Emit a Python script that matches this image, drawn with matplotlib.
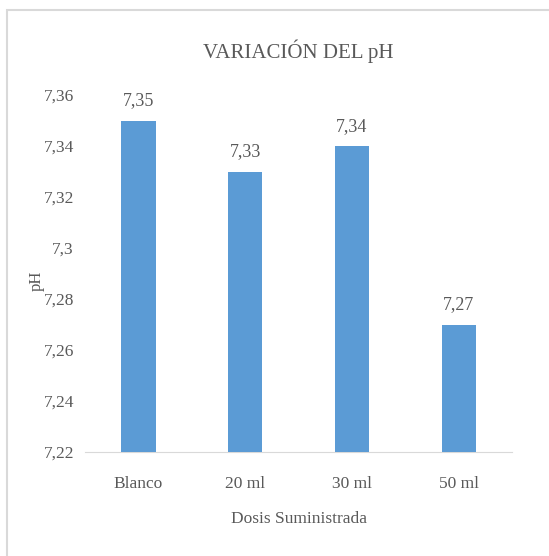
import numpy as np
import matplotlib.pyplot as plt
from matplotlib.patches import Rectangle

categories = ['Blanco', '20 ml', '30 ml', '50 ml']
ph_values = [7.35, 7.33, 7.34, 7.27]
y_ticks = [7.22, 7.24, 7.26, 7.28, 7.3, 7.32, 7.34, 7.36]
y_tick_labels = ['7,22', '7,24', '7,26', '7,28', '7,3', '7,32', '7,34', '7,36']

plt.rcParams['font.family'] = ['Liberation Serif', 'DejaVu Serif']
text_color = '#595959'

fig = plt.figure(figsize=(5.49, 5.56), dpi=100)
fig.patches.append(Rectangle((7 / 549, -0.01), 1.0, (556 - 10) / 556 + 0.01,
                             transform=fig.transFigure, fill=False,
                             edgecolor='#d9d9d9', linewidth=1.5))
ax = fig.add_axes([0.155, 0.187, 0.778, 0.642])

x = np.arange(len(categories))
bars = ax.bar(x, ph_values, width=0.32, color='#5b9bd5', zorder=3)
for xi, v in zip(x, ph_values):
    ax.text(xi, v + 0.0045, ('%.2f' % v).replace('.', ','), ha='center', va='bottom',
            fontsize=13, color=text_color)

ax.set_ylim(7.22, 7.36)
ax.set_xlim(-0.5, len(categories) - 0.5)
ax.set_yticks(y_ticks)
ax.set_yticklabels(y_tick_labels)
ax.set_xticks(x)
ax.set_xticklabels(categories)
ax.tick_params(axis='both', length=0, labelsize=12.5, labelcolor=text_color)
ax.tick_params(axis='y', pad=8)
ax.tick_params(axis='x', pad=17)

for side in ['top', 'right', 'left']:
    ax.spines[side].set_visible(False)
ax.spines['bottom'].set_color('#d9d9d9')

ax.set_title('VARIACIÓN DEL pH', fontsize=15, color=text_color, pad=27)
ax.set_ylabel('pH', fontsize=12, color=text_color)
ax.yaxis.set_label_coords(-40 / 427, 0.48)
ax.set_xlabel('Dosis Suministrada', fontsize=12.5, color=text_color, labelpad=14)

fig.savefig('out.png', dpi=100)
